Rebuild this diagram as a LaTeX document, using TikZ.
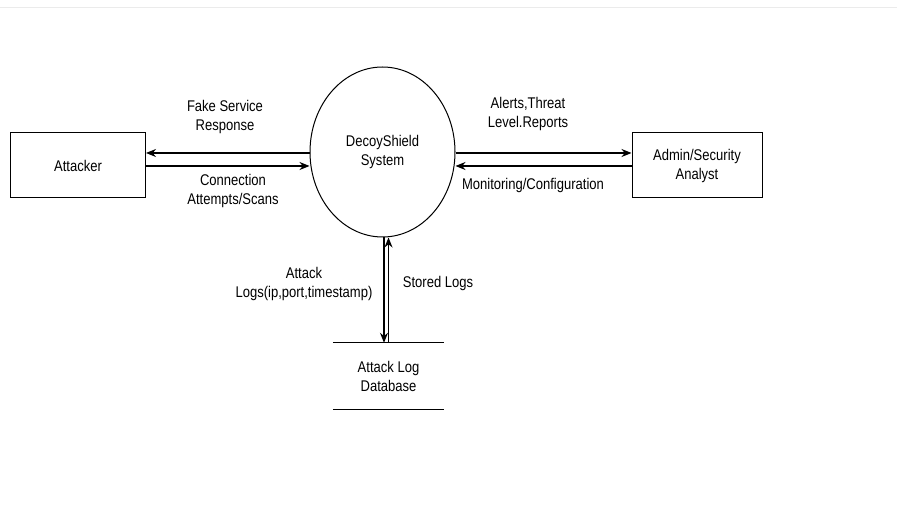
\documentclass[tikz,border=0pt]{standalone}
\usepackage{fontspec}
\setmainfont{Liberation Sans}[FakeStretch=0.84]
\usetikzlibrary{shapes.geometric,arrows.meta}
\begin{document}
\begin{tikzpicture}[x=1pt,y=-1pt,
  every node/.style={font=\fontsize{15.5}{19}\selectfont, align=center, inner sep=0pt, text=black},
  box/.style={draw, line width=1pt, minimum height=65pt},
  arr/.style={line width=1.1pt, -{Stealth[length=10pt,width=8pt]}},
  lbl/.style={}]
\useasboundingbox (0,0) rectangle (897,510);
\draw[black!8, line width=1pt] (0,8) -- (897,8);
\node[box, minimum width=135pt] (att) at (78,165.5) {Attacker};
\node[draw, ellipse, line width=1pt, minimum width=145pt, minimum height=170pt] (sys) at (382.5,152) {DecoyShield\\System};
\node[box, minimum width=130pt] (adm) at (697,165.5) {Admin/Security\\Analyst};
\node[minimum width=111pt, minimum height=66pt] (db) at (388.5,376) {Attack Log\\Database};
\draw[line width=1.1pt] (db.north west) -- (db.north east);
\draw[line width=1.1pt] (db.south west) -- (db.south east);
% attacker arrows
\draw[arr] (sys.west |- 0,153) -- (att.east |- 0,153);
\draw[arr] (att.east |- 0,166) -- (sys.west |- 0,166);
% admin arrows
\draw[arr] (sys.east |- 0,153) -- (adm.west |- 0,153);
\draw[arr] (adm.west |- 0,166) -- (sys.east |- 0,166);
% database arrows
\draw[arr] (sys.south -| 384,0) -- (db.north -| 384,0);
\draw[arr] (db.north -| 388.5,0) -- (sys.south -| 388.5,0);
% labels
\node[lbl] (l1) at (225,116.5) {Fake Service\\Response};
\node[lbl] (l2) at (233,191) {Connection\\Attempts/Scans};
\node[lbl] (l3) at (528,113.5) {Alerts,Threat\\Level.Reports};
\node[lbl] (l4) at (533,185) {Monitoring/Configuration};
\node[lbl] (l5) at (304,283.5) {Attack\\Logs(ip,port,timestamp)};
\node[lbl] (l6) at (438,283) {Stored Logs};
\end{tikzpicture}
\end{document}
